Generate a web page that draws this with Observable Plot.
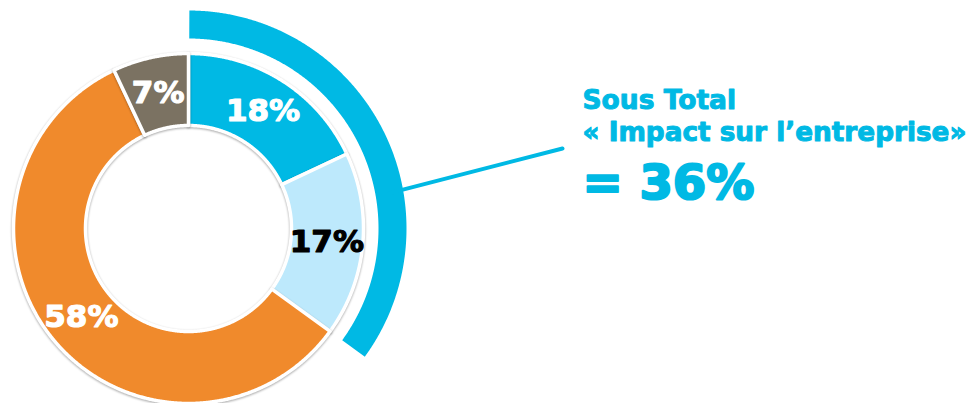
<!DOCTYPE html>
<html><head><meta charset="utf-8">
<script src="https://cdn.jsdelivr.net/npm/d3@7"></script>
<script src="https://cdn.jsdelivr.net/npm/@observablehq/plot@0.6"></script>
<style>
body{margin:0;background:#fff}
#chart svg .slice path{filter: drop-shadow(0px 1px 1.2px rgba(0,0,0,0.35));}
</style>
</head><body><div id="chart"></div>
<script>
// ---- data ----
const labels = ["18%", "17%", "58%", "7%"];
const values = [18, 17, 58, 7];
const colors = ["#00b9e4", "#bde9fc", "#f08a2c", "#7b7262"];
const labelColors = ["#ffffff", "#000000", "#ffffff", "#ffffff"];
const subtotalCount = 2; // first two slices grouped by the outer arc
const subtotalLines = ["Sous Total", "« Impact sur l’entreprise»", "= 36%"];
const subtotalColor = "#00b9e4";

// ---- geometry (units: outer radius = 1) ----
const W = 973, H = 403, cx = 188, cy = 228, rpx = 175;
const R0 = 103 / rpx, R1 = 1, A0 = 190 / rpx, A1 = 218 / rpx;
const total = d3.sum(values);
const cum = Array.from(d3.cumsum(values));
const TAU = 2 * Math.PI;
const slices = values.map((v, i) => ({
  i, label: labels[i],
  a0: (cum[i] - v) / total * TAU,
  a1: cum[i] / total * TAU
}));
function ring(a0, a1, r0, r1) {
  const n = Math.max(2, Math.ceil((a1 - a0) / 0.005));
  const pts = [];
  for (let k = 0; k <= n; k++) { const a = a0 + (a1 - a0) * k / n; pts.push({x: r1 * Math.sin(a), y: r1 * Math.cos(a)}); }
  for (let k = n; k >= 0; k--) { const a = a0 + (a1 - a0) * k / n; pts.push({x: r0 * Math.sin(a), y: r0 * Math.cos(a)}); }
  return pts;
}
const subEnd = cum[subtotalCount - 1] / total * TAU;
const leaderAngle = 80 / 360 * TAU;
const leader = [
  {x: (A0 + A1) / 2 * Math.sin(leaderAngle), y: (A0 + A1) / 2 * Math.cos(leaderAngle)},
  {x: (562 - cx) / rpx, y: (cy - 148) / rpx}
];
const textX = (582 - cx) / rpx;
const textY = [(cy - 108) / rpx, (cy - 140) / rpx, (cy - 198) / rpx];
const textSize = [26.5, 26.3, 48];
const FONT = "DejaVu Sans, Verdana, sans-serif";
const rm = (R0 + R1) / 2;

const marks = [];
slices.forEach(s => {
  marks.push(Plot.line(ring(s.a0, s.a1, R0, R1), {
    x: "x", y: "y", curve: "linear-closed",
    fill: colors[s.i], stroke: "#ffffff", strokeWidth: 3.5, className: "slice"
  }));
});
marks.push(Plot.line(ring(0.004, subEnd, A0, A1), {
  x: "x", y: "y", curve: "linear-closed", fill: subtotalColor, stroke: "none"
}));
marks.push(Plot.line(leader, {x: "x", y: "y", stroke: subtotalColor, strokeWidth: 4}));
marks.push(Plot.text(slices, {
  x: d => rm * Math.sin((d.a0 + d.a1) / 2),
  y: d => rm * Math.cos((d.a0 + d.a1) / 2),
  text: "label",
  fill: d => labelColors[d.i], stroke: d => labelColors[d.i], strokeWidth: 1.2,
  fontSize: 31, fontWeight: "bold", fontFamily: FONT,
  textAnchor: "middle", lineAnchor: "middle"
}));
subtotalLines.forEach((t, i) => {
  marks.push(Plot.text([t], {
    x: () => textX, y: () => textY[i], text: d => d,
    fill: subtotalColor, stroke: subtotalColor, strokeWidth: i === 2 ? 2.2 : 1,
    fontSize: textSize[i], fontWeight: "bold", fontFamily: FONT,
    textAnchor: "start", lineAnchor: "bottom"
  }));
});

const chart = Plot.plot({
  width: W, height: H,
  margin: 0,
  x: {domain: [-cx / rpx, (W - cx) / rpx], axis: null},
  y: {domain: [-(H - cy) / rpx, cy / rpx], axis: null},
  color: {type: "identity"},
  style: {background: "#ffffff", overflow: "visible"},
  marks
});
document.getElementById("chart").appendChild(chart);
</script>
</body></html>
